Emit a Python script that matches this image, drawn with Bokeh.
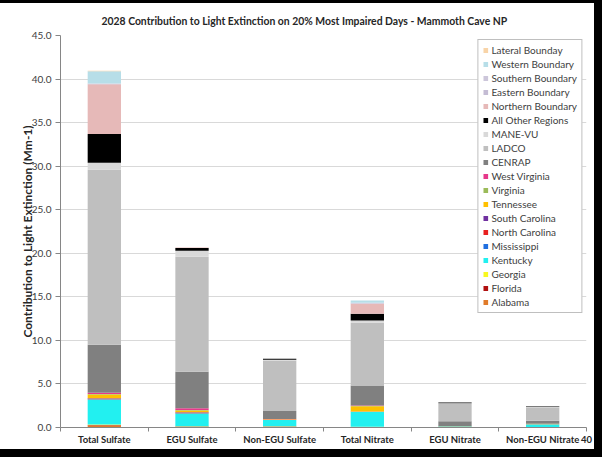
from bokeh.plotting import figure
from bokeh.models import (ColumnDataSource, Legend, LegendItem, FixedTicker,
                          NumeralTickFormatter, Range1d)
from bokeh.embed import file_html
from bokeh.resources import INLINE

title = "2028 Contribution to Light Extinction on 20% Most Impaired Days - Mammoth Cave NP"
y_title = "Contribution to Light Extinction (Mm-1)"
page_number = "40"

categories = ["Total Sulfate", "EGU Sulfate", "Non-EGU Sulfate",
              "Total Nitrate", "EGU Nitrate", "Non-EGU Nitrate"]

alabama        = [0.25, 0.10, 0.10, 0.05, 0.02, 0.03]
florida        = [0.05, 0.02, 0.02, 0.02, 0.01, 0.01]
georgia        = [0.05, 0.03, 0.03, 0.03, 0.01, 0.01]
kentucky       = [2.85, 1.45, 0.70, 1.70, 0.08, 0.30]
mississippi    = [0.05, 0.05, 0.02, 0.02, 0.01, 0.01]
north_carolina = [0.05, 0.05, 0.02, 0.02, 0.01, 0.01]
south_carolina = [0.05, 0.05, 0.01, 0.01, 0.00, 0.00]
tennessee      = [0.45, 0.20, 0.05, 0.60, 0.03, 0.05]
virginia       = [0.05, 0.05, 0.01, 0.02, 0.00, 0.00]
west_virginia  = [0.15, 0.20, 0.02, 0.05, 0.01, 0.01]
cenrap         = [5.50, 4.20, 0.90, 2.30, 0.55, 0.35]
ladco          = [20.1, 13.2, 5.80, 7.20, 2.00, 1.55]
mane_vu        = [0.80, 0.70, 0.10, 0.25, 0.05, 0.05]
all_other      = [3.30, 0.30, 0.10, 0.80, 0.10, 0.05]
northern       = [5.70, 0.05, 0.00, 1.15, 0.00, 0.00]
eastern        = [0.05, 0.00, 0.00, 0.05, 0.00, 0.00]
southern       = [0.05, 0.00, 0.00, 0.05, 0.00, 0.00]
western        = [1.40, 0.00, 0.00, 0.25, 0.00, 0.00]
lateral        = [0.05, 0.00, 0.00, 0.02, 0.00, 0.00]

series_names = ["Alabama", "Florida", "Georgia", "Kentucky", "Mississippi",
                "North Carolina", "South Carolina", "Tennessee", "Virginia",
                "West Virginia", "CENRAP", "LADCO", "MANE-VU", "All Other Regions",
                "Northern Boundary", "Eastern Boundary", "Southern Boundary",
                "Western Boundary", "Lateral Bounday"]
series_values = [alabama, florida, georgia, kentucky, mississippi, north_carolina,
                 south_carolina, tennessee, virginia, west_virginia, cenrap, ladco,
                 mane_vu, all_other, northern, eastern, southern, western, lateral]
series_colors = ["#E07B2A", "#B01010", "#F8F820", "#22F0F0", "#1F6FE0",
                 "#E82020", "#7030A0", "#FFC000", "#9BBB59", "#E6388A",
                 "#808080", "#BFBFBF", "#D9D9D9", "#000000", "#E6B9B8",
                 "#C4BCD4", "#CCC6DA", "#B7DEE8", "#F8D4A8"]

y_ticks = [0, 5, 10, 15, 20, 25, 30, 35, 40, 45]

centers = [i + 0.5 for i in range(len(categories))]
bounds = list(range(len(categories) + 1))

data = {"x": centers, "cat": categories}
for name, vals in zip(series_names, series_values):
    data[name] = vals
src = ColumnDataSource(data)

FONT = "Lato"

p = figure(width=594, height=446, x_range=Range1d(0, len(categories)),
           y_range=Range1d(0, 45), output_backend="svg", toolbar_location=None,
           min_border_left=60, min_border_right=8, min_border_top=31,
           min_border_bottom=22, background_fill_color="white",
           border_fill_color="white", outline_line_color=None)
# black picture frame around the chart (drawn as an outer shadow of the figure)
p.styles = {"transform": "translateY(3px)", "box-shadow": "0 0 0 8px #000000"}

p.title.text = title
p.title.text_font = FONT
p.title.text_font_size = "10.4px"
p.title.text_font_style = "bold"
p.title.text_color = "#262626"
p.title.align = "left"
p.title.offset = 41
p.title.standoff = 18

renderers = p.vbar_stack(series_names, x="x", width=0.38,
                         fill_color=series_colors, line_color=None, source=src)

# axes
x_ticks = centers + [bounds[-1]]
x_labels = {c: lab for c, lab in zip(centers, categories)}
x_labels[bounds[-1]] = page_number
p.xaxis.ticker = FixedTicker(ticks=x_ticks, minor_ticks=bounds)
p.xaxis.major_label_overrides = x_labels
p.xaxis.major_tick_out = 0
p.xaxis.major_tick_in = 0
p.xaxis.minor_tick_out = 4
p.xaxis.minor_tick_in = 0
p.xaxis.minor_tick_line_color = "#868686"
p.xaxis.axis_line_color = "#868686"
p.xaxis.major_label_text_font = FONT
p.xaxis.major_label_text_font_size = "9.5px"
p.xaxis.major_label_text_font_style = "bold"
p.xaxis.major_label_text_color = "#262626"
p.xaxis.major_label_standoff = 2

p.yaxis.ticker = FixedTicker(ticks=y_ticks)
p.yaxis.formatter = NumeralTickFormatter(format="0.0")
p.yaxis.major_tick_out = 5
p.yaxis.major_tick_in = 0
p.yaxis.minor_tick_line_color = None
p.yaxis.axis_line_color = "#868686"
p.yaxis.major_tick_line_color = "#868686"
p.yaxis.major_label_text_font = FONT
p.yaxis.major_label_text_font_size = "10px"
p.yaxis.major_label_text_color = "#404040"
p.yaxis.major_label_standoff = 4
p.yaxis.axis_label = y_title
p.yaxis.axis_label_text_font = FONT
p.yaxis.axis_label_text_font_size = "12px"
p.yaxis.axis_label_text_font_style = "bold"
p.yaxis.axis_label_text_color = "#262626"
p.yaxis.axis_label_standoff = -6

p.xgrid.grid_line_color = None
p.ygrid.grid_line_color = "#D9D9D9"
p.ygrid.ticker = FixedTicker(ticks=y_ticks)

items = [LegendItem(label=n, renderers=[r])
         for n, r in zip(series_names, renderers)][::-1]
legend = Legend(items=items, location="top_right")
legend.margin = 4
legend.padding = 4
legend.spacing = 2
legend.label_height = 12
legend.glyph_height = 6
legend.glyph_width = 6
legend.label_standoff = 3
legend.label_text_font = FONT
legend.label_text_font_size = "10px"
legend.label_text_color = "#404040"
legend.border_line_color = "#808080"
legend.border_line_width = 1
legend.background_fill_alpha = 1
p.add_layout(legend)

open("out.html", "w").write(file_html(p, INLINE))
